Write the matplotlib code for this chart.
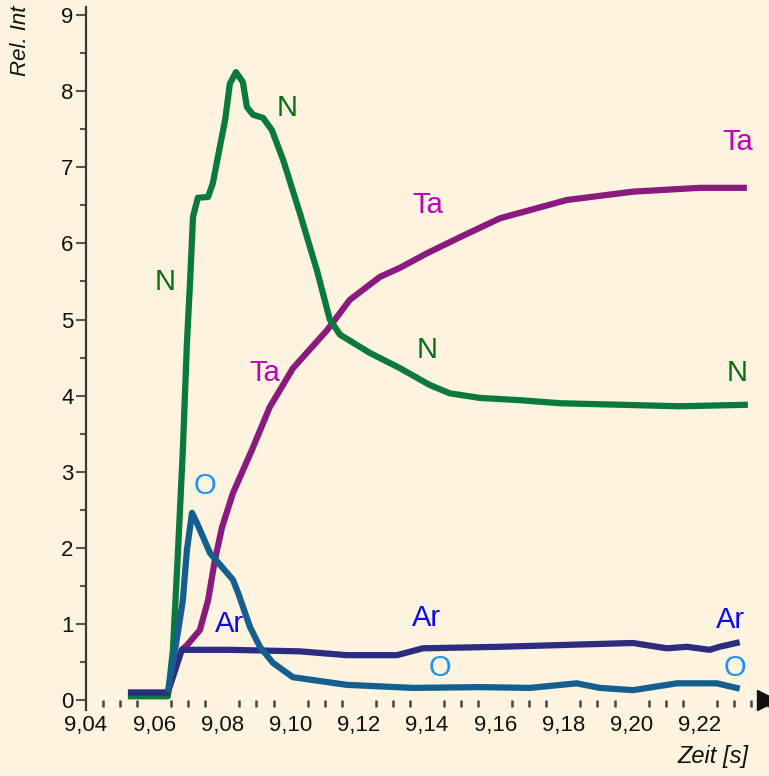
import matplotlib.pyplot as plt
from matplotlib.ticker import MultipleLocator, FuncFormatter

# --- data ---
n_x = [9.0523, 9.0640, 9.0655, 9.0670, 9.0684, 9.0696, 9.0705, 9.0714, 9.0728,
       9.0758, 9.0772, 9.0787, 9.0808, 9.0822, 9.0840, 9.0860, 9.0872, 9.0890,
       9.0919, 9.0945, 9.0978, 9.1027, 9.1077, 9.1115, 9.1145, 9.1233, 9.1321,
       9.1408, 9.1467, 9.1555, 9.1672, 9.1790, 9.1966, 9.2141, 9.2341]
n_y = [0.05, 0.05, 0.66, 1.97, 3.28, 4.69, 5.48, 6.35, 6.60,
       6.61, 6.79, 7.14, 7.62, 8.10, 8.25, 8.12, 7.79, 7.69,
       7.65, 7.49, 7.10, 6.40, 5.65, 5.00, 4.80, 4.56, 4.36,
       4.14, 4.03, 3.97, 3.94, 3.90, 3.88, 3.86, 3.88]

ta_x = [9.0681, 9.0696, 9.0734, 9.0758, 9.0778, 9.0799, 9.0831, 9.0887, 9.0939,
        9.1007, 9.1107, 9.1174, 9.1262, 9.1321, 9.1400, 9.1496, 9.1614, 9.1810,
        9.2004, 9.2200, 9.2338]
ta_y = [0.66, 0.72, 0.92, 1.31, 1.84, 2.27, 2.72, 3.29, 3.85,
        4.36, 4.86, 5.26, 5.56, 5.68, 5.87, 6.08, 6.33, 6.57,
        6.68, 6.73, 6.73]

ar_x = [9.0523, 9.0640, 9.0681, 9.0822, 9.1027, 9.1165, 9.1312, 9.1388, 9.1614,
        9.2004, 9.2103, 9.2162, 9.2229, 9.2258, 9.2317]
ar_y = [0.10, 0.10, 0.66, 0.66, 0.64, 0.59, 0.59, 0.68, 0.70,
        0.75, 0.68, 0.70, 0.66, 0.70, 0.76]

o_x = [9.0640, 9.0655, 9.0670, 9.0684, 9.0696, 9.0711, 9.0725, 9.0764, 9.0831,
       9.0846, 9.0881, 9.0910, 9.0948, 9.1007, 9.1165, 9.1359, 9.1555, 9.1702,
       9.1839, 9.1907, 9.2004, 9.2133, 9.2250, 9.2317]
o_y = [0.10, 0.50, 0.90, 1.31, 1.97, 2.46, 2.33, 1.93, 1.58,
       1.41, 0.96, 0.70, 0.49, 0.30, 0.20, 0.16, 0.17, 0.16,
       0.22, 0.16, 0.13, 0.22, 0.22, 0.15]

# series labels (x, y)
n_labels = [(9.0632, 5.49), (9.0989, 7.78), (9.1400, 4.60), (9.2309, 4.30)]
ta_labels = [(9.0925, 4.30), (9.1403, 6.50), (9.2311, 7.33)]
o_labels = [(9.0749, 2.81), (9.1438, 0.42), (9.2303, 0.42)]
ar_labels = [(9.0822, 1.00), (9.1400, 1.08), (9.2291, 1.05)]

bg = '#fdf3de'
plt.rcParams['font.family'] = ['Liberation Sans', 'DejaVu Sans']

fig = plt.figure(figsize=(7.69, 7.76), dpi=100, facecolor=bg)
ax = fig.add_axes([0.1118, 0.0851, 0.8869, 0.9053], facecolor=bg)

lw = 4.5
kw = dict(lw=lw, solid_capstyle='butt', solid_joinstyle='round')
ax.plot(ta_x, ta_y, color='#8b1a7e', zorder=2, **kw)
ax.plot(n_x, n_y, color='#0a7a3c', zorder=3, **kw)
ax.plot(ar_x, ar_y, color='#2c2c80', zorder=4, **kw)
ax.plot(o_x, o_y, color='#155f8f', zorder=5, **kw)

lab_fs = 21
for x, y in n_labels:
    ax.text(x, y, 'N', color='#0a6e14', fontsize=lab_fs, ha='center', va='center')
for x, y in ta_labels:
    ax.text(x, y, 'Ta', color='#c000c0', fontsize=lab_fs, ha='center', va='center')
for x, y in o_labels:
    ax.text(x, y, 'O', color='#1e90ff', fontsize=lab_fs, ha='center', va='center')
for x, y in ar_labels:
    ax.text(x, y, 'Ar', color='#0a0af0', fontsize=lab_fs, ha='center', va='center')

ax.set_xlim(9.04, 9.24)
ax.set_ylim(-0.13, 9.1)

for s in ['top', 'right', 'bottom']:
    ax.spines[s].set_visible(False)
ax.spines['bottom'].set_position(('data', 0))
ax.spines['left'].set_color('#3a3a3a')
ax.spines['left'].set_linewidth(1.6)

ax.yaxis.set_minor_locator(MultipleLocator(0.5))
ax.set_yticks(range(0, 10))
ax.tick_params(axis='y', which='major', length=7, width=1.5, color='#555555',
               labelsize=16, pad=2, labelcolor='#111111')
ax.tick_params(axis='y', which='minor', length=4, width=1.5, color='#555555')

xt = [9.04, 9.06, 9.08, 9.10, 9.12, 9.14, 9.16, 9.18, 9.20, 9.22]
ax.set_xticks(xt)
ax.xaxis.set_major_formatter(FuncFormatter(lambda v, p: f'{v:.2f}'.replace('.', ',')))
ax.xaxis.set_minor_locator(MultipleLocator(0.005))
ax.tick_params(axis='x', which='major', length=0, labelsize=16, pad=11,
               labelcolor='#111111')
ax.tick_params(axis='x', which='minor', length=5, width=1.8, color='#444444')

# arrow head at the end of the time axis
ax.plot([9.2398], [0], marker='>', ms=14, color='#111111', clip_on=False, zorder=6)

fig.text(0.927, 0.025, 'Zeit [s]', fontsize=17, style='italic', ha='center',
         va='center', color='#111111')
fig.text(0.027, 0.948, 'Rel. Int', fontsize=16, style='italic', rotation=90,
         ha='center', va='center', color='#111111')

fig.savefig('out.png', dpi=100, facecolor=bg)
